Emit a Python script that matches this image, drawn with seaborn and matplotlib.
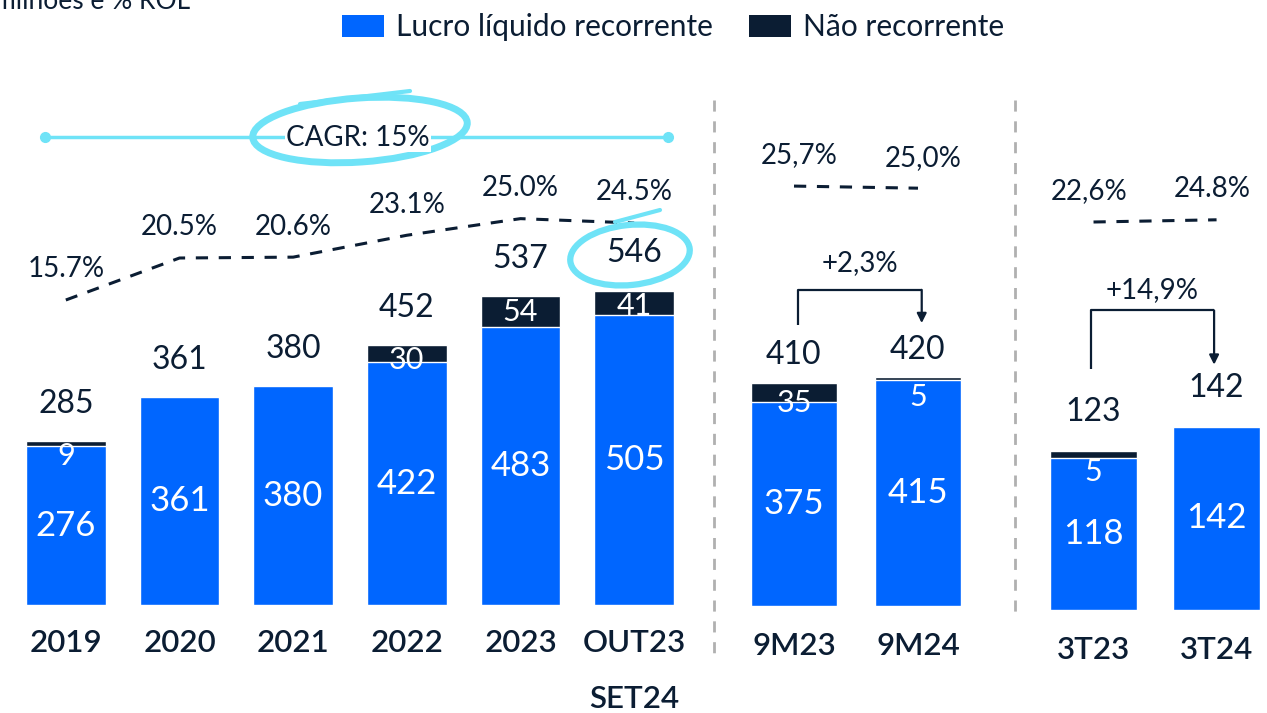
import matplotlib
matplotlib.use("Agg")

import matplotlib.pyplot as plt
import seaborn as sns
from matplotlib.patches import Patch, Ellipse

# ---- data ----
anos = ["2019", "2020", "2021", "2022", "2023", "OUT23\nSET24"]
rec_anos = [276, 361, 380, 422, 483, 505]
nrec_anos = [9, 0, 0, 30, 54, 41]
tot_anos = [285, 361, 380, 452, 537, 546]
marg_anos = [15.7, 20.5, 20.6, 23.1, 25.0, 24.5]
marg_anos_txt = ["15.7%", "20.5%", "20.6%", "23.1%", "25.0%", "24.5%"]

nove = ["9M23", "9M24"]
rec_nove = [375, 415]
nrec_nove = [35, 5]
tot_nove = [410, 420]
marg_nove = [25.7, 25.0]
marg_nove_txt = ["25,7%", "25,0%"]
var_nove = "+2,3%"

tri = ["3T23", "3T24"]
rec_tri = [118, 142]
nrec_tri = [5, 0]
tot_tri = [123, 142]
marg_tri = [22.6, 24.8]
marg_tri_txt = ["22,6%", "24.8%"]
var_tri = "+14,9%"

cagr_txt = "CAGR: 15%"
unit_txt = "milhões e % ROL"
leg_labels = ["Lucro líquido recorrente", "Não recorrente"]

BLUE = "#0066FF"
DARK = "#0B1D33"
CYAN = "#6FE3F7"
GRAY = "#B0B0B0"

sns.set_style("white")
plt.rcParams["font.family"] = ["Lato", "DejaVu Sans"]

W, H = 1267, 713
fig = plt.figure(figsize=(W / 100, H / 100), dpi=100)


def px_axes(x0, x1, y_top, y_bot):
    return fig.add_axes([x0 / W, 1 - y_bot / H, (x1 - x0) / W, (y_bot - y_top) / H])


def panel(ax, cats, rec, nrec, tot, marg, marg_txt, xlim, ylim, mlim,
          min_px, tot_off, pad, mdx=0):
    sns.barplot(x=cats, y=tot, color=DARK, saturation=1, width=0.7, ax=ax)
    sns.barplot(x=cats, y=rec, color=BLUE, saturation=1, width=0.7, ax=ax)
    ax.set_xlim(*xlim)
    ax.set_ylim(*ylim)
    ax.set_yticks([])
    ax.tick_params(axis="x", length=0, pad=pad, labelsize=22.5, labelcolor=DARK)
    for lab in ax.get_xticklabels():
        lab.set_fontweight("semibold")
        lab.set_linespacing(2.25)
    sns.despine(ax=ax, left=True, bottom=True)
    ax.set_xlabel("")
    ax.set_ylabel("")
    ppu = ax.bbox.height / (ylim[1] - ylim[0])
    for i in range(len(cats)):
        ax.text(i, rec[i] / 2, str(rec[i]), ha="center", va="center",
                color="white", fontsize=25)
        ax.annotate(str(tot[i]), (i, tot[i]), xytext=(0, tot_off),
                    textcoords="offset points", ha="center", va="center",
                    color=DARK, fontsize=23)
        if nrec[i] > 0:
            dy = max(nrec[i] * ppu / 2, min_px) * 0.72
            ax.annotate(str(nrec[i]), (i, tot[i]), xytext=(0, -dy),
                        textcoords="offset points", ha="center", va="center",
                        color="white", fontsize=22)
    tw = ax.twinx()
    sns.lineplot(x=list(range(len(cats))), y=marg, color=DARK, lw=2.2,
                 linestyle=(0, (4, 3.5)), ax=tw)
    tw.set_ylim(*mlim)
    tw.set_xlim(*xlim)
    tw.axis("off")
    for i, t in enumerate(marg_txt):
        tw.annotate(t, (i, marg[i]), xytext=(mdx, 22), textcoords="offset points",
                    ha="center", va="center", color=DARK, fontsize=20)
    return ax


ax1 = px_axes(9, 691, 100, 605)
panel(ax1, anos, rec_anos, nrec_anos, tot_anos, marg_anos, marg_anos_txt,
      (-0.5, 5.5), (0, 878), (-19.16, 38.56), 15, 27, 17)

ax2 = px_axes(732, 980, 100, 606)
panel(ax2, nove, rec_nove, nrec_nove, tot_nove, marg_nove, marg_nove_txt,
      (-0.5, 1.5), (0, 930), (-114.3, 54.4), 20, 20, 19, mdx=4)

ax3 = px_axes(1032, 1267, 100, 610)
panel(ax3, tri, rec_tri, nrec_tri, tot_tri, marg_tri, marg_tri_txt,
      (-0.5, 1.41), (0, 395), (-365.4, 144.6), 21, 28, 18.5, mdx=-3)


def bracket(ax, y0, ytop, y1, txt, ty, dx):
    ax.plot([dx, dx, 1 + dx], [y0, ytop, ytop], color=DARK, lw=1.6,
            solid_capstyle="butt")
    ax.annotate("", xy=(1 + dx, y1), xytext=(1 + dx, ytop),
                arrowprops=dict(arrowstyle="-|>", color=DARK, lw=1.6,
                                mutation_scale=14, shrinkA=0, shrinkB=0))
    ax.text(0.5 + dx, ty, txt, ha="center", va="center", color=DARK, fontsize=20)


bracket(ax2, tot_nove[0] + 106, max(tot_nove) + 161, tot_nove[1] + 100,
        var_nove, 630, 0.03)
bracket(ax3, tot_tri[0] + 64, max(tot_tri) + 90, tot_tri[1] + 48,
        var_tri, 248, -0.02)

# overlay in pixel coordinates for annotations
ov = fig.add_axes([0, 0, 1, 1], facecolor="none")
ov.set_xlim(0, W)
ov.set_ylim(H, 0)
ov.axis("off")

ov.plot([714, 714], [100, 655], color=GRAY, lw=2, linestyle=(0, (4, 3.5)))
ov.plot([1015, 1015], [100, 612], color=GRAY, lw=2, linestyle=(0, (4, 3.5)))

ov.plot([45, 668], [137, 137], color=CYAN, lw=2.5, marker="o", ms=7,
        markevery=[0, 1])
ov.add_patch(Ellipse((360, 130), 215, 64, angle=-4, fill=False, ec=CYAN, lw=5))
ov.plot([300, 410], [104, 91], color=CYAN, lw=3)
ov.text(358, 138, cagr_txt, ha="center", va="center", color=DARK, fontsize=20,
        bbox=dict(fc="white", ec="none", pad=1))

ov.add_patch(Ellipse((630, 255), 120, 60, angle=-6, fill=False, ec=CYAN, lw=4.5))
ov.plot([615, 660], [222, 210], color=CYAN, lw=3)

ov.text(-6, 9, unit_txt, ha="left", va="baseline", color=DARK, fontsize=19)

handles = [Patch(fc=BLUE, ec="none"), Patch(fc=DARK, ec="none")]
fig.legend(handles, leg_labels, loc="center", bbox_to_anchor=(673 / W, 1 - 27 / H),
           ncol=2, frameon=False, fontsize=21.5, handlelength=1.4, handleheight=0.75,
           handletextpad=0.4, columnspacing=1.2, labelcolor=DARK)

fig.savefig("out.png", dpi=100)
